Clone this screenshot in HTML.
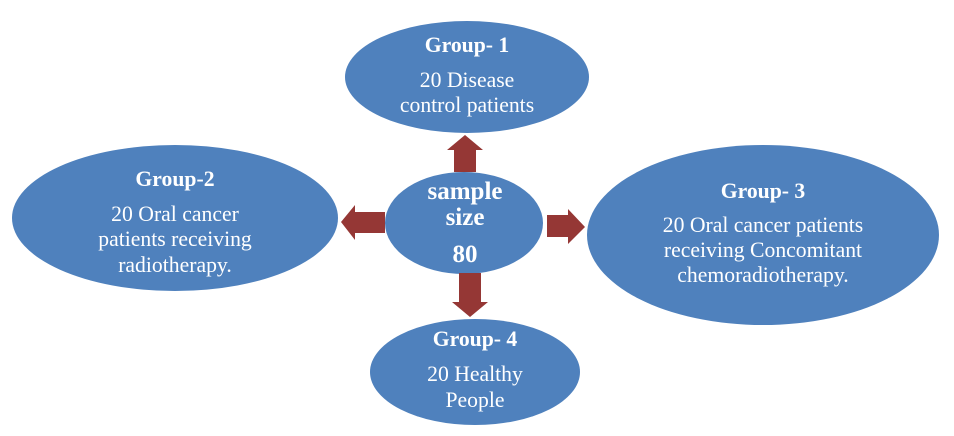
<!DOCTYPE html>
<html><head><style>
html,body{margin:0;padding:0;background:#fff;width:954px;height:436px;overflow:hidden}
svg text{font-family:"Liberation Serif",serif;fill:#fff;font-size:21.7px;text-anchor:middle}
.b{font-weight:bold}
.c{font-size:25px}
</style></head><body>
<svg width="954" height="436" viewBox="0 0 954 436">
<g fill="#4f81bd">
<ellipse cx="467" cy="77" rx="122" ry="56"/>
<ellipse cx="175" cy="218" rx="163" ry="73"/>
<ellipse cx="464" cy="223" rx="79" ry="51"/>
<ellipse cx="763" cy="235" rx="176" ry="90"/>
<ellipse cx="475" cy="372" rx="105" ry="53"/>
</g>
<g fill="#953735">
<polygon points="454,172 454,150 447,150 465,135 483,150 476,150 476,172"/>
<polygon points="385,212 355,212 355,205 341,222 355,240 355,233 385,233"/>
<polygon points="547,215 568,215 568,209 585,227 568,244 568,237 547,237"/>
<polygon points="459,273 481,273 481,302 488,302 470,317 452,302 459,302"/>
</g>
<text class="b" x="467" y="52">Group- 1</text>
<text x="467" y="87">20 Disease</text>
<text x="467" y="112">control patients</text>
<text class="b" x="175" y="186">Group-2</text>
<text x="175" y="221">20 Oral cancer</text>
<text x="175" y="246">patients receiving</text>
<text x="175" y="272">radiotherapy.</text>
<text class="b c" x="465" y="199">sample</text>
<text class="b c" x="465" y="225">size</text>
<text class="b c" x="465" y="262">80</text>
<text class="b" x="763" y="198">Group- 3</text>
<text x="763" y="232">20 Oral cancer patients</text>
<text x="763" y="257">receiving Concomitant</text>
<text x="763" y="282">chemoradiotherapy.</text>
<text class="b" x="475" y="346">Group- 4</text>
<text x="475" y="381">20 Healthy</text>
<text x="475" y="407">People</text>
</svg>
</body></html>
